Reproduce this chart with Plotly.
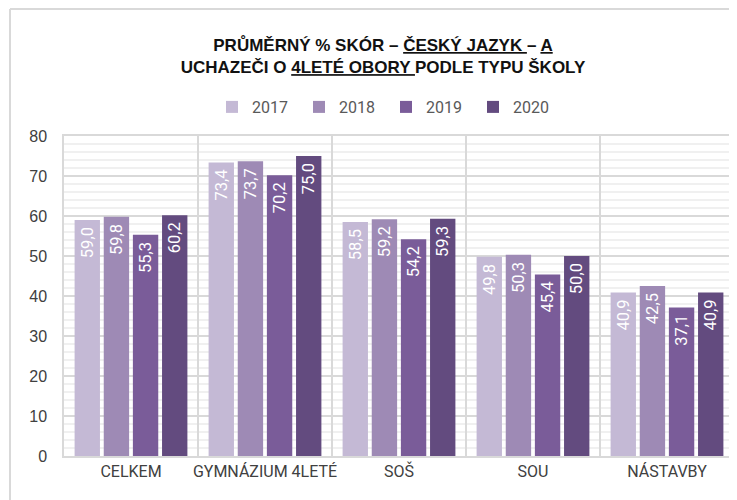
import plotly.graph_objects as go

categories = ["CELKEM", "GYMNÁZIUM 4LETÉ", "SOŠ", "SOU", "NÁSTAVBY"]
years = ["2017", "2018", "2019", "2020"]
v2017 = [59.0, 73.4, 58.5, 49.8, 40.9]
v2018 = [59.8, 73.7, 59.2, 50.3, 42.5]
v2019 = [55.3, 70.2, 54.2, 45.4, 37.1]
v2020 = [60.2, 75.0, 59.3, 50.0, 40.9]
series = [v2017, v2018, v2019, v2020]
colors = ["#c4b9d5", "#9e8ab5", "#7a5c99", "#634b7f"]

FONT = "Liberation Sans Narrow, Roboto, Arial, sans-serif"

# page shows the figure offset by the body margin (8px); margins compensate
ML, MT, MR, MB = 56, 128, 11, 52
PW, PH = 737 - ML - MR, 500 - MT - MB

fig = go.Figure()
for yr, vals, col in zip(years, series, colors):
    fig.add_trace(go.Bar(
        name=yr, x=categories, y=vals, marker_color=col, marker_line_width=0,
        texttemplate="%{y:.1f}\u00a0", textposition="inside", textangle=-90,
        insidetextanchor="end", constraintext="none",
        textfont=dict(color="white", size=16.5, family=FONT),
    ))

fig.update_layout(
    width=737, height=500,
    separators=", ",
    barmode="group", bargap=0.13, bargroupgap=0.13,
    paper_bgcolor="white", plot_bgcolor="white",
    margin=dict(l=ML, r=MR, t=MT, b=MB, autoexpand=False),
    title=dict(
        text="<b>PRŮMĚRNÝ % SKÓR – <u>ČESKÝ JAZYK </u>– <u>A</u></b><br>"
             "<b>UCHAZEČI O <u>4LETÉ OBORY </u>PODLE TYPU ŠKOLY</b>",
        x=375 / 737, xanchor="center", y=1 - 43 / 500, yanchor="middle",
        font=dict(family="Liberation Sans Narrow, Arial, sans-serif", size=17, color="#111111"),
    ),
    legend=dict(orientation="h", x=(378 - ML) / PW, xanchor="center",
                y=1 + (MT - 99) / PH, yanchor="middle",
                font=dict(family=FONT, size=16, color="#595959"),
                itemwidth=30, entrywidth=42, entrywidthmode="pixels",
                traceorder="normal"),
    font=dict(family=FONT, color="#404040"),
    showlegend=True,
)
fig.update_xaxes(
    tickson="boundaries", showgrid=True, gridcolor="#d9d9d9", gridwidth=1.5,
    showline=True, linecolor="#d9d9d9", linewidth=1.5, mirror=True,
    ticks="", tickangle=0, automargin=False,
    tickfont=dict(size=16, color="#404040", family=FONT),
)
fig.update_yaxes(
    range=[0, 80], dtick=10, showgrid=True, gridcolor="#d9d9d9", gridwidth=1.5,
    minor=dict(dtick=2, showgrid=True, gridcolor="#f0f0f0", gridwidth=1.5),
    showline=True, linecolor="#d9d9d9", linewidth=1.5, mirror=True,
    zeroline=False, ticks="", automargin=False, ticklabelstandoff=12,
    tickfont=dict(size=16, color="#404040", family="Liberation Sans, Arial, sans-serif"),
)
# outer chart border (left and top edges)
bx = (2 - ML) / PW
by = (MT + PH - 1) / PH
fig.add_shape(type="line", xref="paper", yref="paper",
              x0=bx, x1=bx, y0=-0.3, y1=by, line=dict(color="#d9d9d9", width=2))
fig.add_shape(type="line", xref="paper", yref="paper",
              x0=bx, x1=1.05, y0=by, y1=by, line=dict(color="#d9d9d9", width=2))

fig.write_html("out.html")
